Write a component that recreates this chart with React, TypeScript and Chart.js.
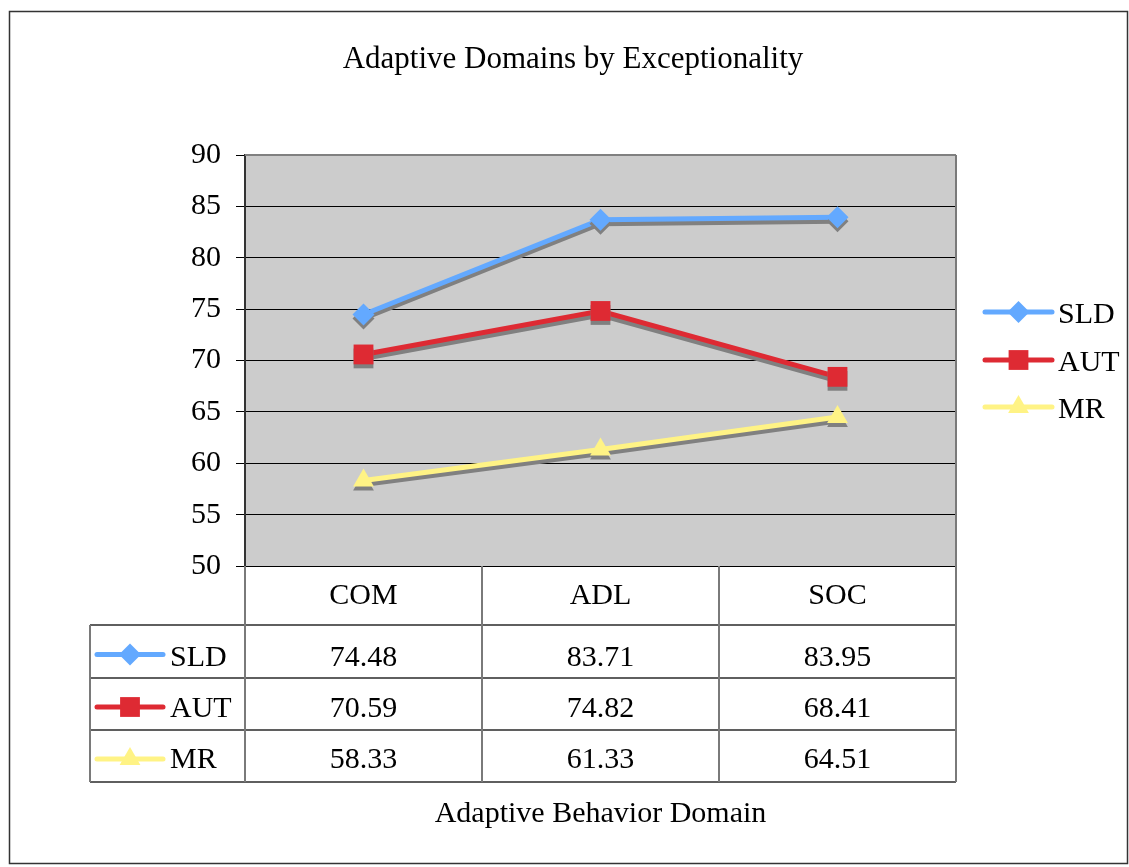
import React, { useEffect, useRef } from 'react';
import { Chart, registerables } from 'chart.js';

Chart.register(...registerables);

const categories = ['COM', 'ADL', 'SOC'];
const seriesNames = ['SLD', 'AUT', 'MR'];
const sldValues = [74.48, 83.71, 83.95];
const autValues = [70.59, 74.82, 68.41];
const mrValues = [58.33, 61.33, 64.51];
const yMin = 50;
const yMax = 90;
const yStep = 5;
const chartTitle = 'Adaptive Domains by Exceptionality';
const axisTitle = 'Adaptive Behavior Domain';

const seriesValues = [sldValues, autValues, mrValues];
const colors = ['#63a9ff', '#de2a33', '#fff385'];
const pointStyles = ['rectRot', 'rect', 'triangle'];
const pointRadii = [11, 14, 12];

const FONT = '"Liberation Serif", "Times New Roman", serif';
const W = 1129;
const H = 867;

function drawMarker(ctx: CanvasRenderingContext2D, style: string, x: number, y: number, r: number, color: string) {
  ctx.save();
  ctx.fillStyle = color;
  ctx.beginPath();
  if (style === 'rectRot') {
    ctx.moveTo(x - r, y);
    ctx.lineTo(x, y - r);
    ctx.lineTo(x + r, y);
    ctx.lineTo(x, y + r);
    ctx.closePath();
  } else if (style === 'rect') {
    const s = Math.SQRT1_2 * r;
    ctx.rect(x - s, y - s, 2 * s, 2 * s);
  } else {
    const a = (2 * Math.PI) / 3;
    ctx.moveTo(x, y - r);
    ctx.lineTo(x + Math.sin(a) * r, y - Math.cos(a) * r);
    ctx.lineTo(x + Math.sin(2 * a) * r, y - Math.cos(2 * a) * r);
    ctx.closePath();
  }
  ctx.fill();
  ctx.restore();
}

function drawKey(ctx: CanvasRenderingContext2D, i: number, x0: number, x1: number, y: number) {
  ctx.save();
  ctx.strokeStyle = colors[i];
  ctx.lineWidth = 5;
  ctx.lineCap = 'round';
  ctx.beginPath();
  ctx.moveTo(x0, y);
  ctx.lineTo(x1, y);
  ctx.stroke();
  ctx.restore();
  drawMarker(ctx, pointStyles[i], (x0 + x1) / 2, y, pointRadii[i], colors[i]);
}

const decorPlugin = {
  id: 'decor',
  beforeDraw(chart: any) {
    const { ctx, chartArea } = chart;
    ctx.save();
    ctx.fillStyle = '#ffffff';
    ctx.fillRect(0, 0, W, H);
    ctx.fillStyle = '#cccccc';
    ctx.fillRect(chartArea.left, chartArea.top, chartArea.right - chartArea.left, chartArea.bottom - chartArea.top);
    ctx.restore();
  },
  beforeDatasetDraw(chart: any) {
    const { ctx } = chart;
    ctx.save();
    ctx.shadowColor = '#808080';
    ctx.shadowOffsetX = 0;
    ctx.shadowOffsetY = 4;
    ctx.shadowBlur = 0;
  },
  afterDatasetDraw(chart: any) {
    chart.ctx.restore();
  },
  afterDraw(chart: any) {
    const { ctx, chartArea } = chart;
    const xs = chart.scales.x;
    ctx.save();
    // outer border
    ctx.strokeStyle = '#333333';
    ctx.lineWidth = 1.5;
    ctx.strokeRect(9.5, 11.5, 1118, 852);

    // title
    ctx.fillStyle = '#000';
    ctx.font = `31px ${FONT}`;
    ctx.textAlign = 'center';
    ctx.textBaseline = 'alphabetic';
    ctx.fillText(chartTitle, 573, 68);

    // plot top border
    ctx.strokeStyle = '#808080';
    ctx.lineWidth = 2;
    ctx.beginPath();
    ctx.moveTo(chartArea.left, chartArea.top);
    ctx.lineTo(chartArea.right, chartArea.top);
    ctx.stroke();

    // legend
    const legendY = [312, 360, 407];
    ctx.textAlign = 'left';
    seriesNames.forEach((name, i) => {
      drawKey(ctx, i, 985, 1052, legendY[i]);
      ctx.fillStyle = '#000';
      ctx.font = `30px ${FONT}`;
      ctx.fillText(name, 1058, legendY[i] + 11);
    });

    // data table
    const band = (chartArea.right - chartArea.left) / categories.length;
    const tableLeft = 90;
    const headerTop = chartArea.bottom;
    const rowTops = [625, 678, 730, 782];
    const tableBottom = rowTops[rowTops.length - 1];

    ctx.strokeStyle = '#2a2a2a';
    ctx.lineWidth = 1.5;
    rowTops.forEach((ry) => {
      ctx.beginPath();
      ctx.moveTo(tableLeft, ry);
      ctx.lineTo(chartArea.right, ry);
      ctx.stroke();
    });
    ctx.strokeStyle = '#7a7a7a';
    ctx.lineWidth = 2;
    ctx.beginPath();
    ctx.moveTo(tableLeft, rowTops[0]);
    ctx.lineTo(tableLeft, tableBottom);
    ctx.stroke();
    for (let c = 0; c <= categories.length; c++) {
      const x = chartArea.left + c * band;
      ctx.beginPath();
      ctx.moveTo(x, c === categories.length ? chartArea.top : headerTop);
      ctx.lineTo(x, tableBottom);
      ctx.stroke();
    }

    ctx.fillStyle = '#000';
    ctx.font = `30px ${FONT}`;
    ctx.textAlign = 'center';
    categories.forEach((cat, c) => {
      const cx = xs.getPixelForValue(c);
      ctx.fillText(cat, cx, 604);
    });
    const rowBaselines = [666, 717, 768];
    seriesNames.forEach((name, i) => {
      const ky = (rowTops[i] + rowTops[i + 1]) / 2 + 3;
      drawKey(ctx, i, 97, 163, ky);
      ctx.fillStyle = '#000';
      ctx.textAlign = 'left';
      ctx.fillText(name, 170, rowBaselines[i]);
      ctx.textAlign = 'center';
      seriesValues[i].forEach((v, c) => {
        ctx.fillText(v.toFixed(2), xs.getPixelForValue(c), rowBaselines[i]);
      });
    });

    // axis title
    ctx.textAlign = 'center';
    ctx.fillText(axisTitle, (chartArea.left + chartArea.right) / 2, 822);
    ctx.restore();
  },
};

export default function App() {
  const ref = useRef<HTMLCanvasElement | null>(null);
  useEffect(() => {
    document.body.style.margin = '0';
    const canvas = ref.current;
    if (!canvas) return;
    const chart = new Chart(canvas, {
      type: 'line',
      data: {
        labels: categories,
        datasets: seriesNames.map((name, i) => ({
          label: name,
          data: seriesValues[i],
          borderColor: colors[i],
          backgroundColor: colors[i],
          borderWidth: 5,
          pointStyle: pointStyles[i] as any,
          pointRadius: pointRadii[i],
          pointHoverRadius: pointRadii[i],
          pointBackgroundColor: colors[i],
          pointBorderWidth: 0,
          tension: 0,
          fill: false,
        })),
      },
      options: {
        responsive: false,
        animation: false,
        devicePixelRatio: 1,
        layout: { padding: { top: 155, right: W - 956, bottom: H - 566, left: 0 } },
        plugins: {
          legend: { display: false },
          title: { display: false },
          tooltip: { enabled: false },
        },
        scales: {
          x: {
            type: 'category',
            offset: true,
            display: false,
          },
          y: {
            min: yMin,
            max: yMax,
            ticks: {
              stepSize: yStep,
              color: '#000',
              font: { family: FONT, size: 30 },
              padding: 15,
            },
            grid: {
              color: '#000',
              lineWidth: 1,
              tickLength: 9,
              drawTicks: true,
            },
            border: { display: true, color: '#333', width: 2 },
            afterFit: (scale: any) => {
              scale.width = 245;
            },
          },
        },
      },
      plugins: [decorPlugin],
    });
    return () => chart.destroy();
  }, []);
  return <canvas ref={ref} width={W} height={H} style={{ display: 'block', width: W, height: H }} />;
}
